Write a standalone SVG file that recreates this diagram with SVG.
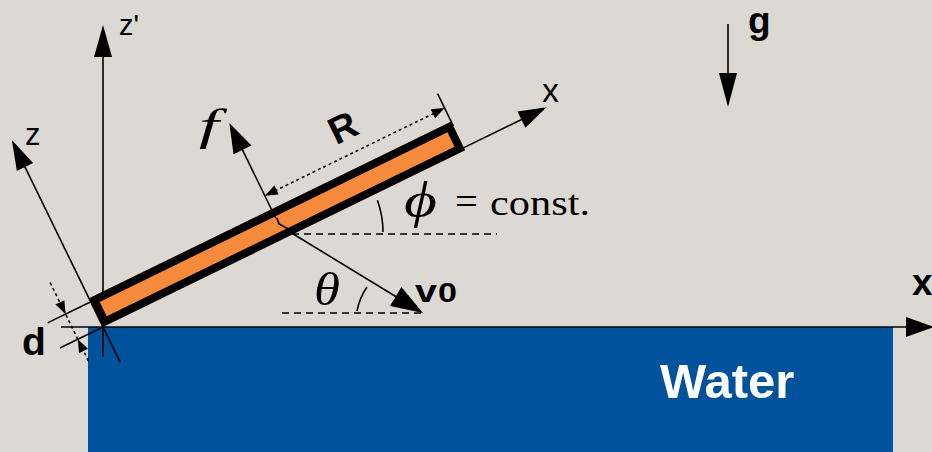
<svg xmlns="http://www.w3.org/2000/svg" width="932" height="452" viewBox="0 0 932 452">
<defs>
<style>
.ax{stroke:#000;stroke-width:1.6;fill:none}
.dot{stroke:#000;stroke-width:1.6;stroke-dasharray:3 3;fill:none}
.dash{stroke:#000;stroke-width:1.5;stroke-dasharray:7 5;fill:none}
.hd{fill:#000}
.sans{font-family:"Liberation Sans",Arial,sans-serif;fill:#000}
.b{font-weight:bold}
.ser{font-family:"Liberation Serif","Times New Roman",serif;fill:#000}
</style>
</defs>
<rect x="0" y="0" width="932" height="452" fill="#dcd9d4"/>
<g id="water">
<rect x="88" y="327" width="805" height="125" fill="#00529c"/>
<text class="sans b" x="660" y="398" font-size="49" style="fill:#fff">Water</text>
</g>
<g id="connectors">
<line class="ax" x1="61" y1="327" x2="908" y2="327" stroke-width="2.2"/>
<polygon class="hd" points="906,317 934,327 906,337"/>
<line class="ax" x1="103" y1="357" x2="103" y2="55"/>
<polygon class="hd" points="94,57 103,25 112,57"/>
<line class="ax" x1="728" y1="24" x2="728" y2="75"/>
<polygon class="hd" points="719,73 728,107 737,73"/>
<g transform="translate(103,327) rotate(-26)">
<line class="ax" x1="0" y1="39" x2="0" y2="-180"/>
<polygon class="hd" points="-9,-178 0,-208 9,-178"/>
</g>
</g>
<g id="plate" transform="translate(103,327) rotate(-26)">
<rect x="4" y="-28" width="395" height="24" fill="#f68a3d" stroke="#000" stroke-width="8"/>
</g>
<g id="annotations">
<g transform="translate(103,327) rotate(-26)">
<line class="ax" x1="403" y1="-3" x2="469" y2="-3"/>
<polygon class="hd" points="467,-12 495,-3 467,6"/>
<line class="ax" x1="203" y1="-22" x2="203" y2="-100"/>
<polygon class="hd" points="193,-98 203,-128 213,-98"/>
<line class="ax" x1="403" y1="-27" x2="403" y2="-63" stroke-width="1.4"/>
<line class="dot" x1="214" y1="-47" x2="392" y2="-47"/>
<polygon class="hd" points="216,-52 203,-47 216,-42"/>
<polygon class="hd" points="390,-52 403,-47 390,-42"/>
<text class="sans b" x="303" y="-61" font-size="38" text-anchor="middle">R</text>
<line class="ax" x1="-48" y1="-28" x2="-1" y2="-28" stroke-width="1.4"/>
<line class="ax" x1="-48" y1="0" x2="0" y2="0" stroke-width="1.4"/>
<line class="dot" x1="-28" y1="-63" x2="-28" y2="27"/>
<polygon class="hd" points="-33,-41 -28,-28 -23,-41"/>
<polygon class="hd" points="-33,13 -28,0 -23,13"/>
</g>
<polyline class="ax" points="277,218 279,224 292,231" stroke-width="1.2"/>
<line class="ax" x1="290" y1="232" x2="399" y2="298.5" stroke-width="2.5"/>
<polygon class="hd" points="390,306 423,313 401.4,287"/>
<line class="dash" x1="292" y1="234" x2="497" y2="234"/>
<line class="dash" x1="282" y1="313" x2="422" y2="313"/>
<path class="ax" d="M383,232 A93,93 0 0 0 377.4,200.2" stroke-width="1.3"/>
<path class="ax" d="M357,311 A62,62 0 0 1 367,287" stroke-width="1.3"/>
</g>
<g id="labels">
<text class="sans" x="119" y="35" font-size="29">z'</text>
<text class="sans" x="25" y="145" font-size="31">z</text>
<text class="sans" x="542" y="102" font-size="34">x</text>
<text class="sans b" x="748" y="33" font-size="37">g</text>
<text class="sans b" x="912" y="295" font-size="37">x</text>
<text class="sans b" x="22" y="355" font-size="39">d</text>
<text class="ser" x="199" y="140" font-size="45" font-style="italic" textLength="20" lengthAdjust="spacingAndGlyphs">f</text>
<text class="ser" x="404" y="217" font-size="50" font-style="italic" textLength="33" lengthAdjust="spacingAndGlyphs">ϕ</text>
<text class="ser" x="455" y="215" font-size="40" textLength="23" lengthAdjust="spacingAndGlyphs">=</text>
<text class="ser" x="490" y="215" font-size="36" textLength="100" lengthAdjust="spacingAndGlyphs">const.</text>
<text class="ser" x="314" y="305" font-size="46" font-style="italic" textLength="26" lengthAdjust="spacingAndGlyphs">θ</text>
<text class="sans b" x="415" y="302" font-size="32" textLength="22" lengthAdjust="spacingAndGlyphs">v</text>
<text class="sans b" x="438" y="302" font-size="28" textLength="19" lengthAdjust="spacingAndGlyphs">0</text>
</g>
</svg>
